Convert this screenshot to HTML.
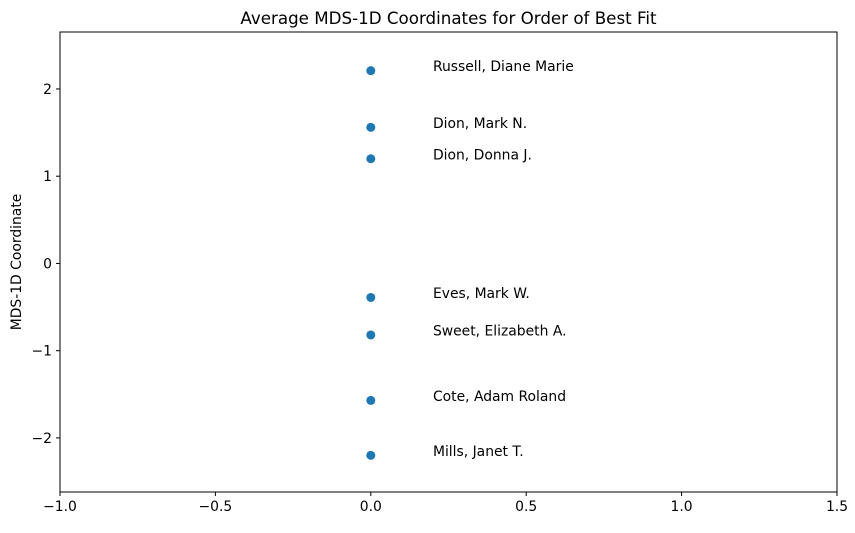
<!DOCTYPE html>
<html><head><meta charset="utf-8"><style>
body{margin:0;background:#fff;font-family:"Liberation Sans","DejaVu Sans",sans-serif}
svg text{font-family:"DejaVu Sans","Liberation Sans",sans-serif}
</style></head><body>
<svg id="chart" width="855" height="528"></svg>
<script>
const names = ["Russell, Diane Marie","Dion, Mark N.","Dion, Donna J.","Eves, Mark W.","Sweet, Elizabeth A.","Cote, Adam Roland","Mills, Janet T."];
const yVals = [2.21, 1.56, 1.20, -0.39, -0.82, -1.57, -2.20];
const xVals = [0, 0, 0, 0, 0, 0, 0];
const xTicks = [-1.0, -0.5, 0.0, 0.5, 1.0, 1.5];
const xTickLabels = ["\u22121.0","\u22120.5","0.0","0.5","1.0","1.5"];
const yTicks = [2, 1, 0, -1, -2];
const yTickLabels = ["2","1","0","\u22121","\u22122"];
const L=60,R=837,T=32,B=492;
const xMin=-1,xMax=1.5,yMin=-2.62,yMax=2.653;
const sx=v=>L+(v-xMin)/(xMax-xMin)*(R-L);
const sy=v=>B-(v-yMin)/(yMax-yMin)*(B-T);
const svg=document.getElementById('chart');const NS="http://www.w3.org/2000/svg";
function mk(tag,attrs,text){const e=document.createElementNS(NS,tag);for(const k in attrs)e.setAttribute(k,attrs[k]);if(text!==undefined)e.textContent=text;svg.appendChild(e);return e;}
let e;
e=mk('rect',{x:L,y:T,width:R-L,height:B-T,fill:'none',stroke:'#000','stroke-width':1});


xTicks.forEach((t,i)=>{const x=sx(t);
 e=mk('line',{x1:x,x2:x,y1:B,y2:B+4,stroke:'#000'});
 
 
 e=mk('text',{x:x,y:B+19,'font-size':13.9,'text-anchor':'middle'},xTickLabels[i]);
 
 
});
yTicks.forEach((t,i)=>{const y=sy(t);
 e=mk('line',{x1:L-4,x2:L,y1:y,y2:y,stroke:'#000'});
 
 
 e=mk('text',{x:L-8,y:y+5,'font-size':13.9,'text-anchor':'end'},yTickLabels[i]);
 
 
});
yVals.forEach((v,i)=>{
 e=mk('circle',{cx:sx(xVals[i]),cy:sy(v),r:4.5,fill:'#1f77b4'});
 
 
 e=mk('text',{x:sx(xVals[i]+0.2),y:sy(v)+0.5,'font-size':13.9},names[i]);
 
 
});
e=mk('text',{x:(L+R)/2,y:T-8,'font-size':16.7,'text-anchor':'middle'},'Average MDS-1D Coordinates for Order of Best Fit');


e=mk('text',{x:21,y:(T+B)/2,'font-size':13.9,'text-anchor':'middle',transform:`rotate(-90 21 ${(T+B)/2})`},'MDS-1D Coordinate');


</script>
</body></html>
